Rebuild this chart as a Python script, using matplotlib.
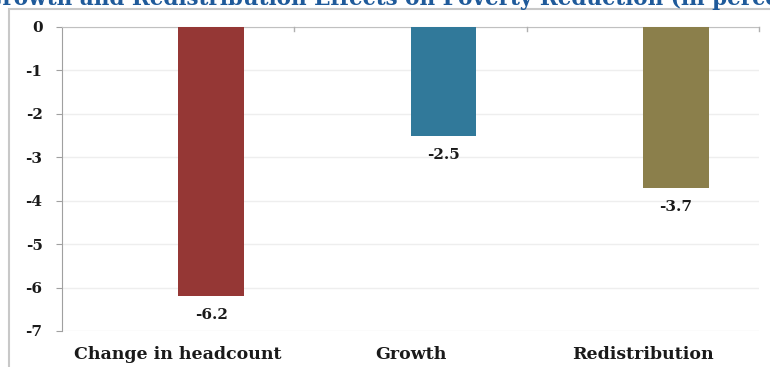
import matplotlib

matplotlib.use('Agg')
import matplotlib.pyplot as plt
from matplotlib.patches import Rectangle

categories = ['Change in headcount', 'Growth', 'Redistribution']
values = [-6.2, -2.5, -3.7]
bar_colors = ['#953735', '#31799A', '#8B7F4B']
y_ticks = [0, -1, -2, -3, -4, -5, -6, -7]
title = 'Growth and Redistribution Effects on Poverty Reduction (in percent)'

W, H = 770, 367
FONT = 'DejaVu Serif'

fig = plt.figure(figsize=(W / 100, H / 100), dpi=100)
fig.patch.set_facecolor('white')
ax = fig.add_axes([62 / W, 1 - 331 / H, (759 - 62) / W, (331 - 27) / H])

centers = [i + 0.5 for i in range(len(categories))]
bar_w = 66 / 232.5
bars = ax.bar(centers, values, width=bar_w, align='edge', color=bar_colors,
              edgecolor='none', zorder=3)

for rect, v in zip(bars, values):
    ax.annotate(f'{v:.1f}', xy=(rect.get_x() + rect.get_width() / 2, v),
                xytext=(0, -19), textcoords='offset pixels', ha='center', va='center',
                fontsize=11, fontweight='bold', family=FONT, color='#1a1a1a')

ax.set_xlim(0, len(categories))
ax.set_ylim(-7, 0)
ax.set_yticks(y_ticks)
ax.set_yticklabels([str(t) for t in y_ticks])
ax.set_xticks(centers)
ax.set_xticklabels(categories)

for lab in ax.get_yticklabels() + ax.get_xticklabels():
    lab.set_family(FONT)
    lab.set_fontweight('bold')
    lab.set_color('#1a1a1a')
for lab in ax.get_yticklabels():
    lab.set_fontsize(11)
for lab in ax.get_xticklabels():
    lab.set_fontsize(12.5)

ax.tick_params(axis='y', length=4, color='#a0a0a0', pad=10)
ax.tick_params(axis='x', length=0, pad=11)
ax.grid(axis='y', color='#eeeeee', linewidth=1, zorder=0)

for s in ['right', 'bottom']:
    ax.spines[s].set_visible(False)
ax.spines['left'].set_color('#a0a0a0')
ax.spines['top'].set_color('#c0c0c0')

# category separators hanging off the zero line
for b in range(1, len(categories) + 1):
    ax.plot([b, b], [0, -0.1], color='#b0b0b0', linewidth=1, clip_on=False, zorder=4)

# chart frame, cut off at right and bottom
fig.patches.append(Rectangle((9 / W, -0.1), 1.0, (H - 9) / H + 0.1,
                             transform=fig.transFigure, fill=False,
                             edgecolor='#c8c8c8', linewidth=1.5))

fig.text(-16 / W, 1 - 5 / H, title, ha='left', va='baseline', fontsize=15.5,
         fontweight='bold', family=FONT, color='#1F5A9A')

fig.savefig('out.png', dpi=100)
